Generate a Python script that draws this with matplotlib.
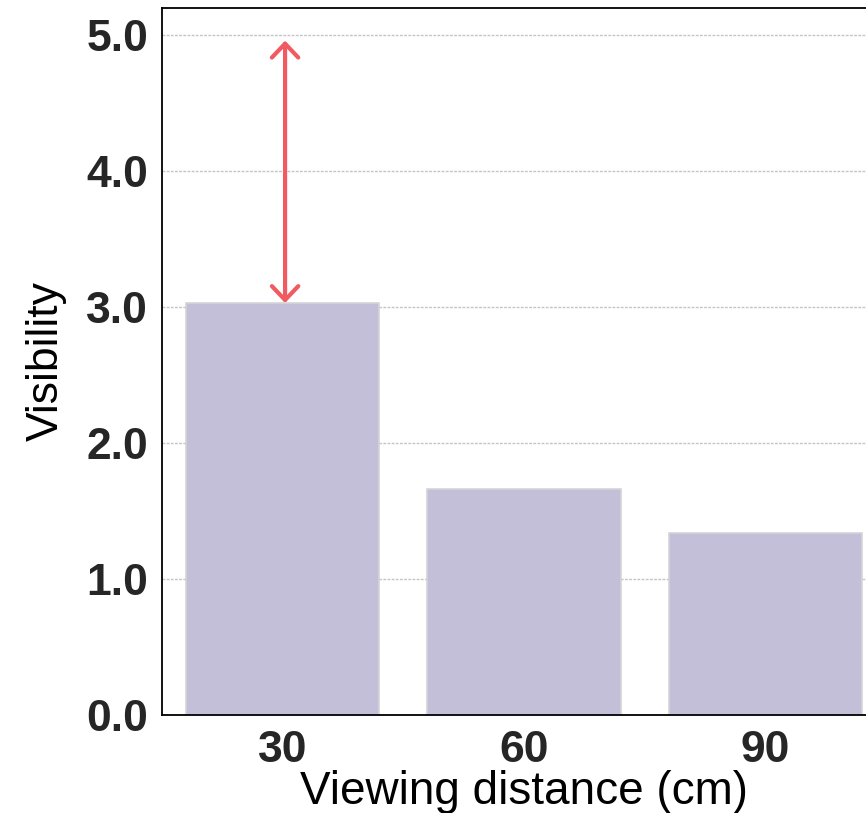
import matplotlib
matplotlib.use("Agg")
import matplotlib.pyplot as plt

# Data
distances = ["30", "60", "90"]
visibility = [3.03, 1.66, 1.34]
arrow_start = 3.03
arrow_end = 4.96
y_ticks = [0.0, 1.0, 2.0, 3.0, 4.0, 5.0]

plt.rcParams["font.family"] = ["Liberation Sans", "DejaVu Sans"]
text_color = "#262626"

fig = plt.figure(figsize=(8.66, 8.13), dpi=100)
ax = fig.add_axes([162 / 866, 1 - 715 / 813, (886 - 162) / 866, (715 - 8) / 813])

x = list(range(len(distances)))
ax.bar(x, visibility, width=0.8, color="#c3bfd8", edgecolor="#d4d4d8",
       linewidth=1.2, zorder=2)

ax.annotate("", xy=(0.01, arrow_start), xytext=(0.01, arrow_end),
            arrowprops=dict(arrowstyle="<->,head_length=1.0,head_width=0.95",
                            color="#f25a62", lw=3, shrinkA=0, shrinkB=0),
            zorder=3)

ax.set_xlim(-0.5, 2.5)
ax.set_ylim(0, 5.2)
ax.set_xticks(x)
ax.set_xticklabels(distances)
ax.set_yticks(y_ticks)
ax.set_yticklabels([f"{v:.1f}" for v in y_ticks])
ax.tick_params(axis="both", length=0, labelsize=32, labelcolor=text_color)
for lab in ax.get_xticklabels() + ax.get_yticklabels():
    lab.set_fontweight("bold")
ax.tick_params(axis="y", pad=10)
ax.tick_params(axis="x", pad=11)

ax.yaxis.grid(True, linestyle=(0, (2, 1)), color="#c4c4c4", linewidth=1.0, zorder=0)
ax.set_axisbelow(True)

for side in ["left", "bottom", "top"]:
    ax.spines[side].set_color("black")
    ax.spines[side].set_linewidth(1.3)

ax.set_xlabel("Viewing distance (cm)", fontsize=33, color="black", labelpad=-1)
ax.set_ylabel("Visibility", fontsize=32, color="black", labelpad=14)

fig.savefig("out.png", dpi=100)
